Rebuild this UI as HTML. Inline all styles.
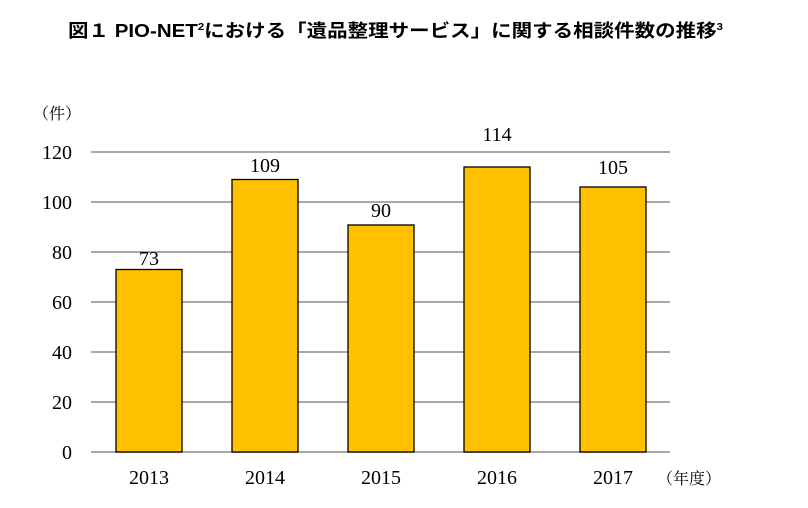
<!DOCTYPE html>
<html><head><meta charset="utf-8"><style>
html,body{margin:0;padding:0;background:#fff;width:808px;height:508px;overflow:hidden}
</style></head><body>
<svg width="808" height="508" xmlns="http://www.w3.org/2000/svg">
<text x="68" y="37" font-family="Liberation Sans, 'Noto Sans CJK JP', sans-serif" font-size="18" font-weight="bold" fill="#000" textLength="655" lengthAdjust="spacingAndGlyphs">図１ PIO-NET<tspan font-size="10" dy="-7">2</tspan><tspan dy="7">における「遺品整理サービス」に関する相談件数の推移</tspan><tspan font-size="10" dy="-7">3</tspan></text>
<g font-family="Liberation Serif, 'Noto Serif CJK SC', serif" font-size="20" fill="#000">
<text x="33" y="119" font-size="16">（件）</text>
<g stroke="#8c8c8c" stroke-width="1.5">
<line x1="91" x2="670" y1="152" y2="152"/><line x1="91" x2="670" y1="202" y2="202"/>
<line x1="91" x2="670" y1="252" y2="252"/><line x1="91" x2="670" y1="302" y2="302"/>
<line x1="91" x2="670" y1="352" y2="352"/><line x1="91" x2="670" y1="402" y2="402"/>
<line x1="91" x2="670" y1="452" y2="452"/>
</g>
<g text-anchor="end">
<text x="72" y="159">120</text><text x="72" y="209">100</text><text x="72" y="259">80</text>
<text x="72" y="309">60</text><text x="72" y="359">40</text><text x="72" y="409">20</text><text x="72" y="459">0</text>
</g>
<g fill="#ffc000" stroke="#000" stroke-width="1.3">
<rect x="116" y="269.5" width="66" height="182.5"/>
<rect x="232" y="179.5" width="66" height="272.5"/>
<rect x="348" y="225" width="66" height="227"/>
<rect x="464" y="167" width="66" height="285"/>
<rect x="580" y="187" width="66" height="265"/>
</g>
<g text-anchor="middle">
<text x="149" y="265">73</text><text x="265" y="172">109</text><text x="381" y="217">90</text>
<text x="497" y="141">114</text><text x="613" y="174">105</text>
<text x="149" y="484">2013</text><text x="265" y="484">2014</text><text x="381" y="484">2015</text>
<text x="497" y="484">2016</text><text x="613" y="484">2017</text>
</g>
<text x="657" y="484" font-size="16">（年度）</text>
</g>
</svg>
</body></html>
